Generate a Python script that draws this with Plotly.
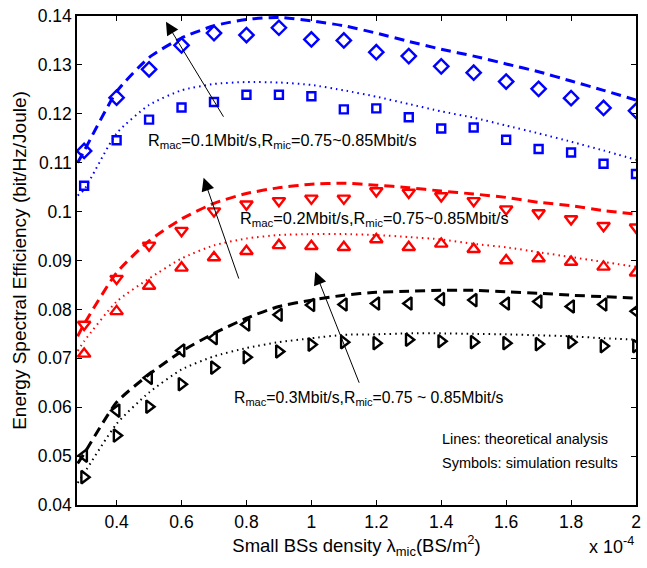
import plotly.graph_objects as go

# x in units of 1e-4 BS/m^2
x_sim = [0.3, 0.4, 0.5, 0.6, 0.7, 0.8, 0.9, 1.0, 1.1, 1.2, 1.3, 1.4, 1.5, 1.6, 1.7, 1.8, 1.9, 2.0]
x_th = [0.28] + x_sim

# simulation results
blue_diamond = [0.1124, 0.1233, 0.1291, 0.1340, 0.1365, 0.1361, 0.1376, 0.1352, 0.1350,
                0.1326, 0.1318, 0.1297, 0.1284, 0.1266, 0.1251, 0.1232, 0.1212, 0.1206]
blue_square = [0.1053, 0.1146, 0.1188, 0.1213, 0.1224, 0.1239, 0.1239, 0.1236, 0.1209,
               0.1211, 0.1193, 0.1170, 0.1172, 0.1147, 0.1128, 0.1121, 0.1098, 0.1077]
red_down = [0.0769, 0.0863, 0.0931, 0.0961, 0.1001, 0.1015, 0.1022, 0.1027, 0.1027,
            0.1042, 0.1039, 0.1032, 0.1022, 0.1005, 0.0997, 0.0985, 0.0971, 0.0968]
red_up = [0.0709, 0.0796, 0.0848, 0.0885, 0.0906, 0.0919, 0.0931, 0.0929, 0.0927,
          0.0943, 0.0927, 0.0934, 0.0923, 0.0900, 0.0904, 0.0897, 0.0887, 0.0875]
black_left = [0.0501, 0.0593, 0.0660, 0.0716, 0.0741, 0.0769, 0.0789, 0.0809, 0.0810,
              0.0812, 0.0812, 0.0821, 0.0819, 0.0812, 0.0816, 0.0806, 0.0810, 0.0796]
black_right = [0.0457, 0.0542, 0.0601, 0.0647, 0.0681, 0.0702, 0.0714, 0.0728, 0.0733,
               0.0731, 0.0738, 0.0735, 0.0733, 0.0731, 0.0729, 0.0733, 0.0725, 0.0725]

# theoretical analysis
blue_dash = [0.1100, 0.1124, 0.1245, 0.1315, 0.1355, 0.1380, 0.1393, 0.1397, 0.1390, 0.1380,
             0.1365, 0.1348, 0.1332, 0.1318, 0.1302, 0.1286, 0.1267, 0.1248, 0.1228]
blue_dot = [0.1033, 0.1045, 0.1160, 0.1218, 0.1248, 0.1261, 0.1265, 0.1264, 0.1259, 0.1248,
            0.1235, 0.1220, 0.1205, 0.1192, 0.1176, 0.1160, 0.1143, 0.1125, 0.1106]
red_dash = [0.0745, 0.0770, 0.0875, 0.0940, 0.0985, 0.1017, 0.1037, 0.1049, 0.1056, 0.1058,
            0.1054, 0.1049, 0.1042, 0.1036, 0.1029, 0.1019, 0.1012, 0.1002, 0.0995]
red_dot = [0.0715, 0.0735, 0.0816, 0.0863, 0.0904, 0.0931, 0.0945, 0.0952, 0.0954, 0.0954,
           0.0952, 0.0948, 0.0943, 0.0934, 0.0927, 0.0917, 0.0907, 0.0897, 0.0887]
black_dash = [0.0485, 0.0505, 0.0610, 0.0667, 0.0714, 0.0751, 0.0782, 0.0806, 0.0819, 0.0829,
              0.0835, 0.0837, 0.0839, 0.0839, 0.0836, 0.0833, 0.0829, 0.0826, 0.0823]
black_dot = [0.0445, 0.0465, 0.0566, 0.0630, 0.0677, 0.0704, 0.0721, 0.0733, 0.0741, 0.0748,
             0.0749, 0.0751, 0.0751, 0.0750, 0.0749, 0.0747, 0.0745, 0.0741, 0.0738]

x_ticks = [0.4, 0.6, 0.8, 1.0, 1.2, 1.4, 1.6, 1.8, 2.0]
x_ticktext = ["0.4", "0.6", "0.8", "1", "1.2", "1.4", "1.6", "1.8", "2"]
y_ticks = [0.04, 0.05, 0.06, 0.07, 0.08, 0.09, 0.10, 0.11, 0.12, 0.13, 0.14]
y_ticktext = ["0.04", "0.05", "0.06", "0.07", "0.08", "0.09", "0.1", "0.11", "0.12", "0.13", "0.14"]

BLUE = "#0000ff"
RED = "#ff0000"
BLACK = "#000000"
DASH = "10px,6px"
DOT = "1.5px,4px"

fig = go.Figure()

lines = [
    (blue_dash, BLUE, DASH, 3), (blue_dot, BLUE, DOT, 2),
    (red_dash, RED, DASH, 3), (red_dot, RED, DOT, 2),
    (black_dash, BLACK, DASH, 3), (black_dot, BLACK, DOT, 2),
]
for ys, c, d, w in lines:
    fig.add_trace(go.Scatter(x=x_th, y=ys, mode="lines", line=dict(color=c, dash=d, width=w,
                                                                       shape="spline", smoothing=0.6),
                             showlegend=False, hoverinfo="skip"))

markers = [
    (blue_diamond, BLUE, "diamond-open", 11),
    (blue_square, BLUE, "square-open", 8),
    (red_down, RED, "triangle-down-open", 11),
    (red_up, RED, "triangle-up-open", 11),
    (black_left, BLACK, "triangle-left-open", 11),
    (black_right, BLACK, "triangle-right-open", 11),
]
for ys, c, s, sz in markers:
    fig.add_trace(go.Scatter(x=x_sim, y=ys, mode="markers",
                             marker=dict(symbol=s, size=sz, color=c, line=dict(color=c, width=2.4)),
                             showlegend=False, hoverinfo="skip"))

FONT = "Liberation Sans, Arial, Helvetica, sans-serif"

# arrows (head -> tail in data coordinates)
arrows = [
    (0.552, 0.1388, 0.732, 0.1191),
    (0.668, 0.1069, 0.778, 0.0860),
    (1.012, 0.0877, 1.149, 0.0647),
]
for hx, hy, tx, ty in arrows:
    fig.add_annotation(x=hx, y=hy, ax=tx, ay=ty, xref="x", yref="y", axref="x", ayref="y",
                       showarrow=True, arrowhead=2, arrowsize=2.6, arrowwidth=1, arrowcolor="black",
                       text="")

texts = [
    (0.491, 0.1144, "R<sub>mac</sub>=0.1Mbit/s,R<sub>mic</sub>=0.75~0.85Mbit/s", 16.3),
    (0.775, 0.0984, "R<sub>mac</sub>=0.2Mbit/s,R<sub>mic</sub>=0.75~0.85Mbit/s", 16.3),
    (0.754, 0.0617, "R<sub>mac</sub>=0.3Mbit/s,R<sub>mic</sub>=0.75 ~ 0.85Mbit/s", 15.8),
]
for tx, ty, t, fs in texts:
    fig.add_annotation(x=tx, y=ty, xref="x", yref="y", text=t, showarrow=False,
                       xanchor="left", yanchor="middle", font=dict(family=FONT, size=fs, color="black"))

fig.add_annotation(x=1.397, y=0.0536, xref="x", yref="y", text="Lines: theoretical analysis",
                   showarrow=False, xanchor="left", yanchor="middle",
                   font=dict(family=FONT, size=14.5, color="black"))
fig.add_annotation(x=1.397, y=0.0485, xref="x", yref="y", text="Symbols: simulation results",
                   showarrow=False, xanchor="left", yanchor="middle",
                   font=dict(family=FONT, size=14.5, color="black"))

fig.add_annotation(x=1.0, y=-0.083, xref="paper", yref="paper", text="x 10<sup>-4</sup>",
                   showarrow=False, xanchor="right", yanchor="middle",
                   font=dict(family=FONT, size=18, color="black"))

fig.update_xaxes(range=[0.278, 2.0], tickvals=x_ticks, ticktext=x_ticktext,
                 ticks="inside", ticklen=5, tickcolor="black", showline=True, linecolor="black",
                 linewidth=1.5, mirror="ticks", showgrid=False, zeroline=False,
                 tickfont=dict(family=FONT, size=17.5, color="black"),
                 title=dict(text="Small BSs density λ<sub>mic</sub>(BS/m<sup>2</sup>)",
                            font=dict(family=FONT, size=18.5, color="black"), standoff=8))
fig.update_yaxes(range=[0.04, 0.14], tickvals=y_ticks, ticktext=y_ticktext,
                 ticks="inside", ticklen=5, tickcolor="black", showline=True, linecolor="black",
                 linewidth=1.5, mirror="ticks", showgrid=False, zeroline=False,
                 tickfont=dict(family=FONT, size=17.5, color="black"),
                 title=dict(text="Energy Spectral Efficiency (bit/Hz/Joule)",
                            font=dict(family=FONT, size=19, color="black"), standoff=6))

fig.update_layout(width=647, height=568, margin=dict(l=77, r=6, t=12, b=63),
                  plot_bgcolor="white", paper_bgcolor="white")

fig.write_html("out.html")
